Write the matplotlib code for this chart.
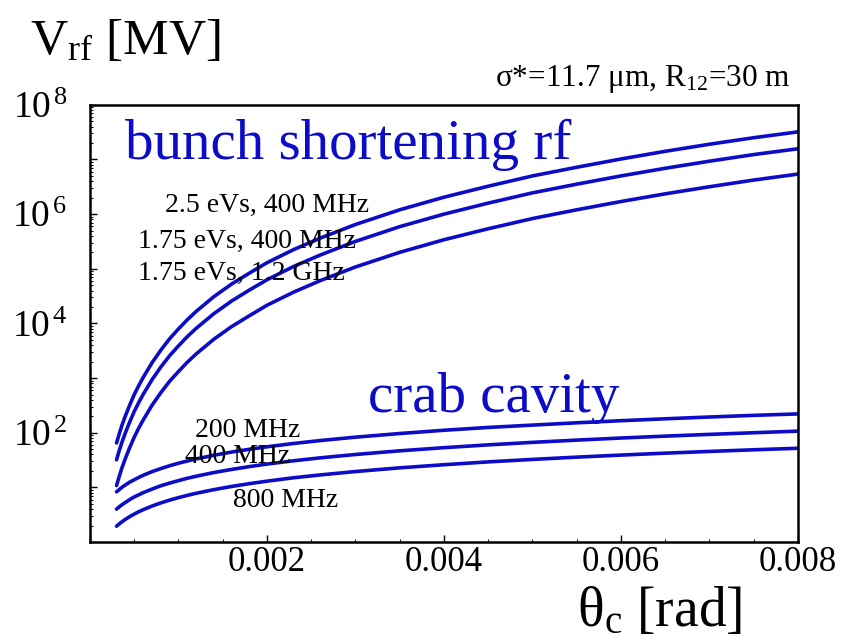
import numpy as np
import matplotlib
matplotlib.use("Agg")
import matplotlib.pyplot as plt
from matplotlib.ticker import LogLocator, FuncFormatter, MultipleLocator

plt.rcParams["font.family"] = ["Liberation Serif", "DejaVu Serif"]
plt.rcParams["mathtext.fontset"] = "custom"
plt.rcParams["mathtext.rm"] = "Liberation Serif"
plt.rcParams["mathtext.it"] = "Liberation Serif:italic"

# crossing angle theta_c [rad]
theta = [0.0003, 0.00033, 0.00036, 0.0004, 0.00045, 0.0005, 0.00055, 0.0006,
         0.0007, 0.0008, 0.0009, 0.001, 0.0011, 0.0012, 0.0014, 0.0016, 0.0018,
         0.002, 0.0023, 0.0026, 0.003, 0.0035, 0.004, 0.0045, 0.005, 0.0055,
         0.006, 0.0065, 0.007, 0.0075, 0.008]

# bunch shortening rf voltage [MV]
v_25_400 = [65, 95, 135, 204, 324, 501, 724, 1020,
            1900, 3240, 5250, 7940, 1.17e4, 1.66e4, 3.09e4, 5.25e4, 8.3e4,
            1.29e5, 2.24e5, 3.63e5, 6.46e5, 1.2e6, 2.04e6, 3.24e6, 5.0e6, 7.2e6,
            1.02e7, 1.41e7, 1.9e7, 2.5e7, 3.2e7]
v_175_400 = [32, 47, 66, 100, 159, 245, 355, 500,
             930, 1590, 2570, 3890, 5740, 8140, 1.51e4, 2.57e4, 4.07e4,
             6.3e4, 1.1e5, 1.78e5, 3.17e5, 5.9e5, 1.0e6, 1.59e6, 2.45e6, 3.53e6,
             5.0e6, 6.9e6, 9.3e6, 1.23e7, 1.57e7]
v_175_1200 = [10.8, 15.8, 22.5, 34, 54, 83, 121, 170,
              317, 540, 875, 1320, 1950, 2770, 5150, 8750, 1.38e4,
              2.15e4, 3.73e4, 6.05e4, 1.08e5, 2.0e5, 3.4e5, 5.4e5, 8.3e5, 1.2e6,
              1.7e6, 2.35e6, 3.17e6, 4.2e6, 5.4e6]

# crab cavity voltage [MV]
crab_200 = [8.3, 9.1, 10.0, 11.1, 12.5, 13.8, 15.2, 16.6,
            19.4, 22.1, 24.9, 27.7, 30.4, 33.2, 38.7, 44.3, 49.8,
            55.3, 63.6, 71.9, 83, 96.8, 111, 125, 138, 152,
            166, 180, 194, 208, 221]
crab_400 = [4.0, 4.4, 4.8, 5.3, 6.0, 6.7, 7.3, 8.0,
            9.3, 10.7, 12.0, 13.3, 14.7, 16.0, 18.7, 21.3, 24.0,
            26.7, 30.7, 34.7, 40, 46.7, 53.3, 60, 66.7, 73.3,
            80, 86.7, 93.3, 100, 107]
crab_800 = [1.95, 2.15, 2.34, 2.6, 2.93, 3.25, 3.58, 3.9,
            4.55, 5.2, 5.85, 6.5, 7.15, 7.8, 9.1, 10.4, 11.7,
            13.0, 15.0, 16.9, 19.5, 22.8, 26, 29.3, 32.5, 35.8,
            39, 42.3, 45.5, 48.8, 52]

blue = "#0c0cc8"

fig = plt.figure(figsize=(8.53, 6.43), dpi=100)
ax = fig.add_axes([0.1055, 0.157, 0.83, 0.68])

for v in [v_25_400, v_175_400, v_175_1200, crab_200, crab_400, crab_800]:
    ax.plot(theta, v, color=blue, lw=2.6, solid_capstyle="round")

ax.set_yscale("log")
ax.set_xlim(0, 0.008)
ax.set_ylim(1, 1e8)

ax.xaxis.set_major_locator(MultipleLocator(0.002))
ax.xaxis.set_minor_locator(MultipleLocator(0.0005))
ax.xaxis.set_major_formatter(FuncFormatter(lambda x, p: "" if x == 0 else f"{x:.3f}"))
ax.yaxis.set_major_locator(LogLocator(base=10, numticks=20))
ax.yaxis.set_minor_locator(LogLocator(base=10, subs=np.arange(2, 10), numticks=20))


def ylab(y, pos):
    e = int(round(np.log10(y)))
    if e in (2, 4, 6, 8):
        return r"$10^{\,%d}$" % e
    return ""


ax.yaxis.set_major_formatter(FuncFormatter(ylab))
ax.tick_params(which="both", direction="in")
ax.tick_params(axis="x", labelsize=25, pad=3)
ax.tick_params(axis="y", labelsize=27, pad=16)
ax.tick_params(which="major", length=5, width=1.0)
ax.tick_params(which="minor", length=2.5, width=0.7)
for s in ax.spines.values():
    s.set_linewidth(1.8)

fig.text(0.035, 0.935, r"V$_{\rm rf}$ [MV]", fontsize=37, va="center", ha="left")
fig.text(0.87, 0.048, r"θ$_{\rm c}$ [rad]", fontsize=40, va="center", ha="right")
fig.text(0.927, 0.877, r"σ*=11.7 μm, R$_{12}$=30 m", fontsize=22.5, va="center", ha="right")

ax.text(0.0004, 1.0e7, "bunch shortening rf", color=blue, fontsize=41)
ax.text(0.00314, 240, "crab cavity", color=blue, fontsize=41)

ax.text(0.00085, 1.1e6, "2.5 eVs, 400 MHz", fontsize=20)
ax.text(0.00054, 2.4e5, "1.75 eVs, 400 MHz", fontsize=20)
ax.text(0.00054, 6.3e4, "1.75 eVs, 1.2 GHz", fontsize=20)
ax.text(0.00119, 84, "200 MHz", fontsize=20)
ax.text(0.00107, 28, "400 MHz", fontsize=20)
ax.text(0.00162, 4.4, "800 MHz", fontsize=20)

fig.savefig("out.png", dpi=100)
